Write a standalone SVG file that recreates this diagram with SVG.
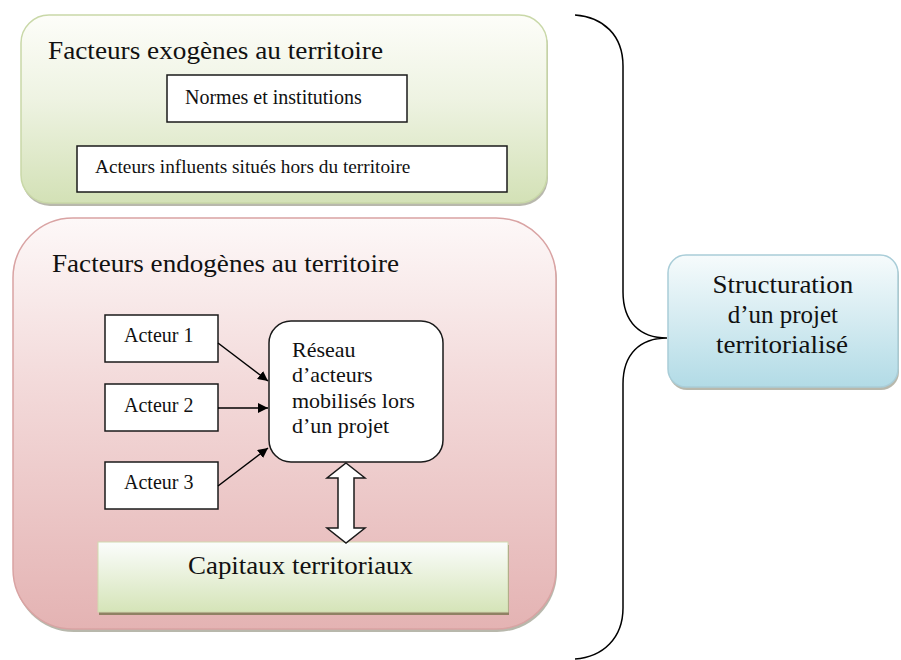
<svg xmlns="http://www.w3.org/2000/svg" width="901" height="660" viewBox="0 0 901 660" font-family="'Liberation Serif', 'Times New Roman', serif">
  <defs>
    <linearGradient id="gGreen" x1="0" y1="0" x2="0" y2="1">
      <stop offset="0" stop-color="#fdfdf9"/>
      <stop offset="0.45" stop-color="#eef3e2"/>
      <stop offset="1" stop-color="#d3e1b6"/>
    </linearGradient>
    <linearGradient id="gPink" x1="0" y1="0" x2="0" y2="1">
      <stop offset="0" stop-color="#fdf8f8"/>
      <stop offset="0.4" stop-color="#f3dada"/>
      <stop offset="1" stop-color="#e4b3b3"/>
    </linearGradient>
    <linearGradient id="gCap" x1="0" y1="0" x2="0" y2="1">
      <stop offset="0" stop-color="#fbfdfc"/>
      <stop offset="1" stop-color="#d5e4b8"/>
    </linearGradient>
    <linearGradient id="gBlue" x1="0" y1="0" x2="0" y2="1">
      <stop offset="0" stop-color="#f6fbfc"/>
      <stop offset="1" stop-color="#b2dbe6"/>
    </linearGradient>
    <marker id="ah" viewBox="0 0 10 10" refX="10" refY="5" markerWidth="10" markerHeight="10" markerUnits="userSpaceOnUse" orient="auto">
      <path d="M0,0 L10,5 L0,10 z" fill="#000"/>
    </marker>
  </defs>
  <style>
    .t { fill: #111111; }
    .box { fill: #ffffff; stroke: #1a1a1a; stroke-width: 1.5; }
    .shadow { fill: #7d7d68; opacity: 0.55; }
    .conn { stroke: #000; stroke-width: 1.5; fill: none; }
  </style>

  <g id="exogenes">
    <rect class="shadow" x="22" y="18" width="526" height="188" rx="28"/>
    <rect x="21" y="15" width="526" height="188" rx="28" fill="url(#gGreen)" stroke="#c9d8a8" stroke-width="1.5"/>
    <text class="t" x="48" y="59" font-size="25" textLength="335" lengthAdjust="spacingAndGlyphs">Facteurs exogènes au territoire</text>
  </g>
  <g id="normes">
    <rect class="box" x="167" y="75" width="240" height="47"/>
    <text class="t" x="185" y="104" font-size="20">Normes et institutions</text>
  </g>
  <g id="acteurs-influents">
    <rect class="box" x="77" y="146" width="430" height="46"/>
    <text class="t" x="95" y="173" font-size="19.3">Acteurs influents situés hors du territoire</text>
  </g>

  <g id="endogenes">
    <rect class="shadow" x="14" y="221" width="543" height="411" rx="60"/>
    <rect x="13" y="218" width="543" height="411" rx="60" fill="url(#gPink)" stroke="#d9a3a3" stroke-width="1.5"/>
    <text class="t" x="52" y="272" font-size="25" textLength="347" lengthAdjust="spacingAndGlyphs">Facteurs endogènes au territoire</text>
  </g>
  <g id="acteur1">
    <rect class="box" x="105" y="315" width="113" height="47"/>
    <text class="t" x="124" y="342" font-size="20">Acteur 1</text>
  </g>
  <g id="acteur2">
    <rect class="box" x="105" y="384" width="113" height="47"/>
    <text class="t" x="124" y="412" font-size="20">Acteur 2</text>
  </g>
  <g id="acteur3">
    <rect class="box" x="105" y="462" width="113" height="47"/>
    <text class="t" x="124" y="489" font-size="20">Acteur 3</text>
  </g>
  <g id="reseau">
    <rect class="box" x="269" y="321" width="174" height="141" rx="22"/>
    <text class="t" font-size="22">
      <tspan x="292" y="357">Réseau</tspan>
      <tspan x="292" y="382">d’acteurs</tspan>
      <tspan x="292" y="408">mobilisés lors</tspan>
      <tspan x="292" y="433">d’un projet</tspan>
    </text>
  </g>
  <g id="capitaux">
    <rect x="99" y="545" width="410" height="70" fill="#7a7450" opacity="0.8"/>
    <rect x="98" y="542" width="410" height="70" fill="url(#gCap)" stroke="#d2d9b0" stroke-width="1"/>
    <text class="t" x="188" y="574" font-size="25" textLength="225" lengthAdjust="spacingAndGlyphs">Capitaux territoriaux</text>
  </g>
  <g id="structuration">
    <rect class="shadow" x="669" y="258" width="230" height="132" rx="18"/>
    <rect x="668" y="255" width="230" height="132" rx="18" fill="url(#gBlue)" stroke="#a9cdd8" stroke-width="1.5"/>
    <text class="t" font-size="25" text-anchor="middle">
      <tspan x="786" y="293" textLength="141" lengthAdjust="spacingAndGlyphs">Structuration</tspan>
      <tspan x="786" y="323">d’un projet</tspan>
      <tspan x="782" y="353" textLength="132" lengthAdjust="spacingAndGlyphs">territorialisé</tspan>
    </text>
  </g>

  <g id="connectors">
    <line class="conn" x1="218" y1="343" x2="268" y2="381" marker-end="url(#ah)"/>
    <line class="conn" x1="218" y1="408" x2="268" y2="408" marker-end="url(#ah)"/>
    <line class="conn" x1="218" y1="486" x2="268" y2="448" marker-end="url(#ah)"/>
    <path d="M346,463 L365,478 L354,478 L354,528 L365,528 L346,543 L327,528 L338,528 L338,478 L327,478 Z" fill="#ffffff" stroke="#1a1a1a" stroke-width="1.5" stroke-linejoin="miter"/>
    <path class="conn" d="M575,15 C603,17 623,35 623,66 L623,292 C623,322 640,338 667,338 C640,338 623,354 623,384 L623,608 C623,638 603,657 575,659"/>
  </g>
</svg>
